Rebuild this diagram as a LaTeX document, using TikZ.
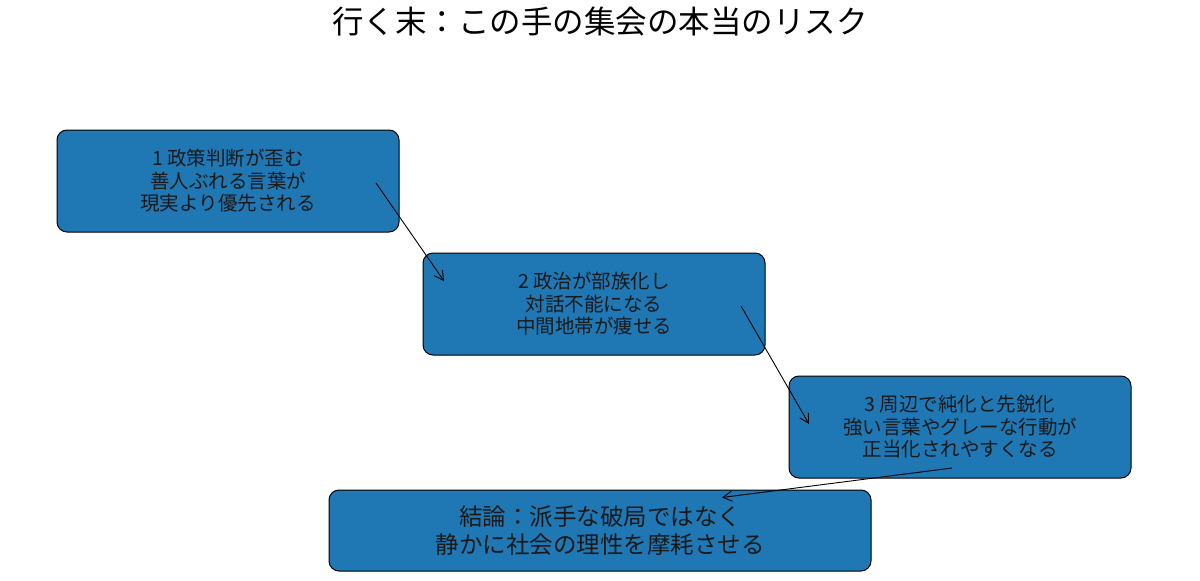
\documentclass[tikz,border=0pt]{standalone}
\usepackage{fontspec}
\newfontfamily\cjk{Noto Sans CJK JP}
\usetikzlibrary{arrows.meta}
\definecolor{boxblue}{RGB}{31,119,180}
\tikzset{
  stepbox/.style={draw=black, line width=1pt, fill=boxblue, rounded corners=10pt,
    minimum width=342pt, minimum height=102pt, inner sep=0pt, outer sep=0pt,
    align=center, text=black!90, font=\cjk\fontsize{19.5}{22.5}\selectfont},
  endbox/.style={stepbox, minimum width=542pt, minimum height=81pt,
    font=\cjk\fontsize{23.5}{28}\selectfont},
  conn/.style={line width=0.9pt, -{Straight Barb[length=9pt,width=10pt]}}
}
\begin{document}
\begin{tikzpicture}[x=1pt,y=-1pt]
\useasboundingbox (0,0) rectangle (1200,581);
\node[font=\cjk\fontsize{31.5}{36}\selectfont] (title) at (600,22) {行く末：この手の集会の本当のリスク};
\node[stepbox] (b1) at (228,181) {1 政策判断が歪む\\善人ぶれる言葉が\\現実より優先される};
\node[stepbox] (b2) at (594,304) {2 政治が部族化し\\対話不能になる\\中間地帯が痩せる};
\node[stepbox] (b3) at (960,427) {3 周辺で純化と先鋭化\\強い言葉やグレーな行動が\\正当化されやすくなる};
\node[endbox] (b4) at (600,530.5) {結論：派手な破局ではなく\\静かに社会の理性を摩耗させる};
\coordinate (s1) at ([shift={(148,2)}]b1.center);
\coordinate (e1) at ([shift={(-150,-23)}]b2.center);
\coordinate (s2) at ([shift={(147,2)}]b2.center);
\coordinate (e2) at ([shift={(-151,-3)}]b3.center);
\coordinate (s3) at ([shift={(-8,41)}]b3.center);
\coordinate (e3) at ([shift={(122,-33)}]b4.center);
\draw[conn] (s1) -- (e1);
\draw[conn] (s2) -- (e2);
\draw[conn] (s3) -- (e3);
\end{tikzpicture}
\end{document}
